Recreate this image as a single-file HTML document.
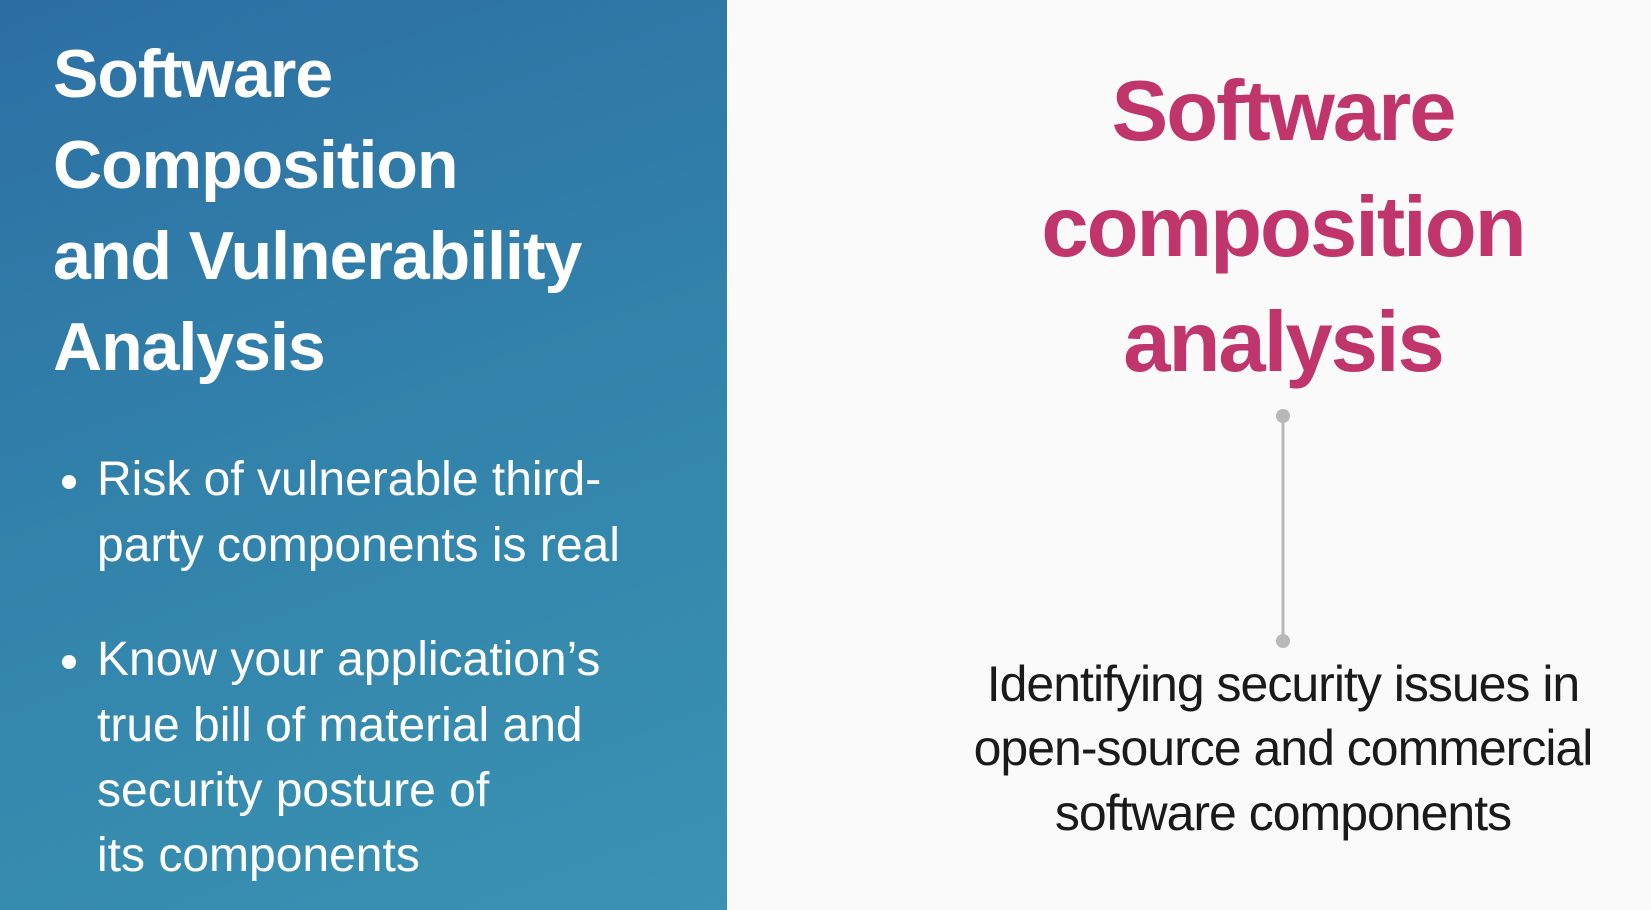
<!DOCTYPE html>
<html><head><meta charset="utf-8"><style>
html,body{margin:0;padding:0}
body{width:1651px;height:910px;position:relative;overflow:hidden;background:#fafafa;font-family:"Liberation Sans",sans-serif}
#left{position:absolute;left:0;top:0;width:727px;height:910px;background:linear-gradient(160deg,#2c6fa3 0%,#3283ab 50%,#3a93b2 100%)}
.t{position:absolute;white-space:nowrap}
.lt{left:53px;color:#fff;font-weight:bold;font-size:68px;letter-spacing:-1px}
.b{left:97px;color:#fff;font-size:48px}
.dot{position:absolute;left:62px;width:14px;height:14px;border-radius:50%;background:#fff}
.rt{color:#c0356b;font-weight:bold;font-size:85px;letter-spacing:-2px;width:800px;left:883px;text-align:center}
.body{color:#1a1a1a;font-size:50px;letter-spacing:-1px;width:800px;left:883px;text-align:center}
</style></head><body>
<div id="left"></div>
<div class="t lt" style="top:35px">Software</div>
<div class="t lt" style="top:126px">Composition</div>
<div class="t lt" style="top:217px">and Vulnerability</div>
<div class="t lt" style="top:308px">Analysis</div>
<div class="dot" style="top:475px"></div>
<div class="t b" style="top:452px">Risk of vulnerable third-</div>
<div class="t b" style="top:518px">party components is real</div>
<div class="dot" style="top:655px"></div>
<div class="t b" style="top:632px">Know your application’s</div>
<div class="t b" style="top:698px">true bill of material and</div>
<div class="t b" style="top:763px">security posture of</div>
<div class="t b" style="top:828px">its components</div>
<div class="t rt" style="top:63px">Software</div>
<div class="t rt" style="top:179px">composition</div>
<div class="t rt" style="top:294px">analysis</div>
<svg style="position:absolute;left:0;top:0" width="1651" height="910">
<line x1="1283" y1="416" x2="1283" y2="641" stroke="#b8b8b8" stroke-width="3"/>
<circle cx="1283" cy="416" r="7" fill="#b8b8b8"/>
<circle cx="1283" cy="641" r="7" fill="#b8b8b8"/>
</svg>
<div class="t body" style="top:655px">Identifying security issues in</div>
<div class="t body" style="top:719px">open-source and commercial</div>
<div class="t body" style="top:784px">software components</div>
</body></html>
